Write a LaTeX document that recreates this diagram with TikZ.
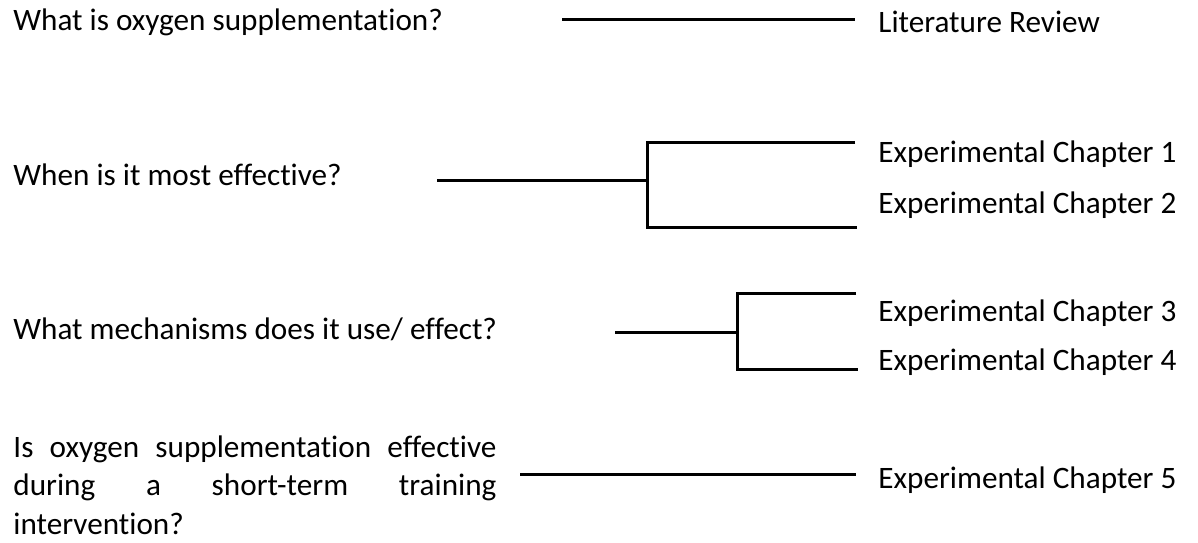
\documentclass[tikz,border=0pt]{standalone}
\usepackage{fontspec}
\setmainfont{Carlito}[Ligatures=NoCommon]
\newcommand{\thesisfont}{\fontsize{15.6}{19.25}\selectfont}
\begin{document}
\begin{tikzpicture}[x=0.5pt, y=-0.5pt,
    question/.style={anchor=west, inner sep=0pt, font=\thesisfont},
    chapter/.style={anchor=west, inner sep=0pt, font=\thesisfont},
    link/.style={line width=1.5pt}]
    \useasboundingbox (0,0) rectangle (1198,542);

    % Questions
    \node[question] (q1) at (13,22) {What is oxygen supplementation?};
    \node[question] (q2) at (13,175) {When is it most effective?};
    \node[question] (q3) at (13,329) {What mechanisms does it use/ effect?};
    \node[question, text width=241.5pt, align=justify] (q4) at (13,485)
        {Is oxygen supplementation effective\linebreak during a short-term training\linebreak intervention?};

    % Chapters
    \node[chapter] (lr) at (878,22) {Literature Review};
    \node[chapter] (c1) at (878,154) {Experimental Chapter 1};
    \node[chapter] (c2) at (878,205) {Experimental Chapter 2};
    \node[chapter] (c3) at (878,313) {Experimental Chapter 3};
    \node[chapter] (c4) at (878,362) {Experimental Chapter 4};
    \node[chapter] (c5) at (878,480) {Experimental Chapter 5};

    % Line ends and branch points
    \coordinate (s1) at (562,19);  \coordinate (e1) at (855,19);
    \coordinate (s2) at (437,180); \coordinate (j2) at (647,180);
    \coordinate (t1) at (855,142); \coordinate (t2) at (857,227);
    \coordinate (s3) at (615,332); \coordinate (j3) at (737,332);
    \coordinate (t3) at (856,293); \coordinate (t4) at (858,369);
    \coordinate (s4) at (520,474); \coordinate (e4) at (856,474);

    % Connectors
    \draw[link] (s1) -- (e1);
    \draw[link] (s2) -- (j2);
    \draw[link] (t1) -| (j2) |- (t2);
    \draw[link] (s3) -- (j3);
    \draw[link] (t3) -| (j3) |- (t4);
    \draw[link] (s4) -- (e4);
\end{tikzpicture}
\end{document}
